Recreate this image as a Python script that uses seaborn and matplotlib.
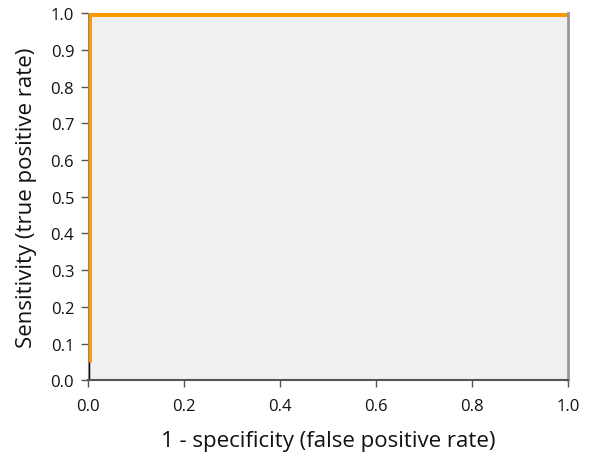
import numpy as np
import pandas as pd
import matplotlib
matplotlib.use('Agg')
import matplotlib.pyplot as plt
import seaborn as sns

# ROC curve points (fpr, tpr)
fpr_low = [0.0, 0.0]
tpr_low = [0.0, 0.05]
fpr = [0.0, 0.0, 1.0]
tpr = [0.05, 1.0, 1.0]

ticks = [0.0, 0.2, 0.4, 0.6, 0.8, 1.0]
yticks = [0.0, 0.1, 0.2, 0.3, 0.4, 0.5, 0.6, 0.7, 0.8, 0.9, 1.0]

sns.set_style('white')
plt.rcParams['font.family'] = ['Open Sans', 'DejaVu Sans']

fig = plt.figure(figsize=(5.91, 4.56), dpi=100)
ax = fig.add_axes([0.149, 0.164, 0.812, 0.805])
ax.set_facecolor('#f0f0f0')

low = pd.DataFrame({'fpr': fpr_low, 'tpr': tpr_low})
roc = pd.DataFrame({'fpr': fpr, 'tpr': tpr})
sns.lineplot(data=low, x='fpr', y='tpr', sort=False, estimator=None,
             color='black', lw=2.5, ax=ax)
sns.lineplot(data=roc, x='fpr', y='tpr', sort=False, estimator=None,
             color='#ff9900', lw=5, ax=ax, solid_capstyle='butt')

ax.set_xlim(0, 1)
ax.set_ylim(0, 1)
ax.set_xticks(ticks)
ax.set_xticklabels([f'{t:.1f}' for t in ticks])
ax.set_yticks(yticks)
ax.set_yticklabels([f'{t:.1f}' for t in yticks])
ax.tick_params(axis='both', labelsize=12, length=5, width=1, pad=5,
               direction='out', bottom=True, left=True, labelcolor='#111111')
ax.tick_params(axis='x', pad=8)
ax.tick_params(axis='both', color='#555555')

ax.spines['top'].set_visible(False)
ax.spines['left'].set_color('#888888')
ax.spines['right'].set_color('#999999')
ax.spines['right'].set_linewidth(2)
ax.spines['bottom'].set_color('#555555')
ax.spines['bottom'].set_linewidth(1.5)

ax.set_xlabel('1 - specificity (false positive rate)', fontsize=16, labelpad=11, color='#111111')
ax.set_ylabel('Sensitivity (true positive rate)', fontsize=16, labelpad=10, color='#111111')

fig.savefig('out.png', dpi=100)
